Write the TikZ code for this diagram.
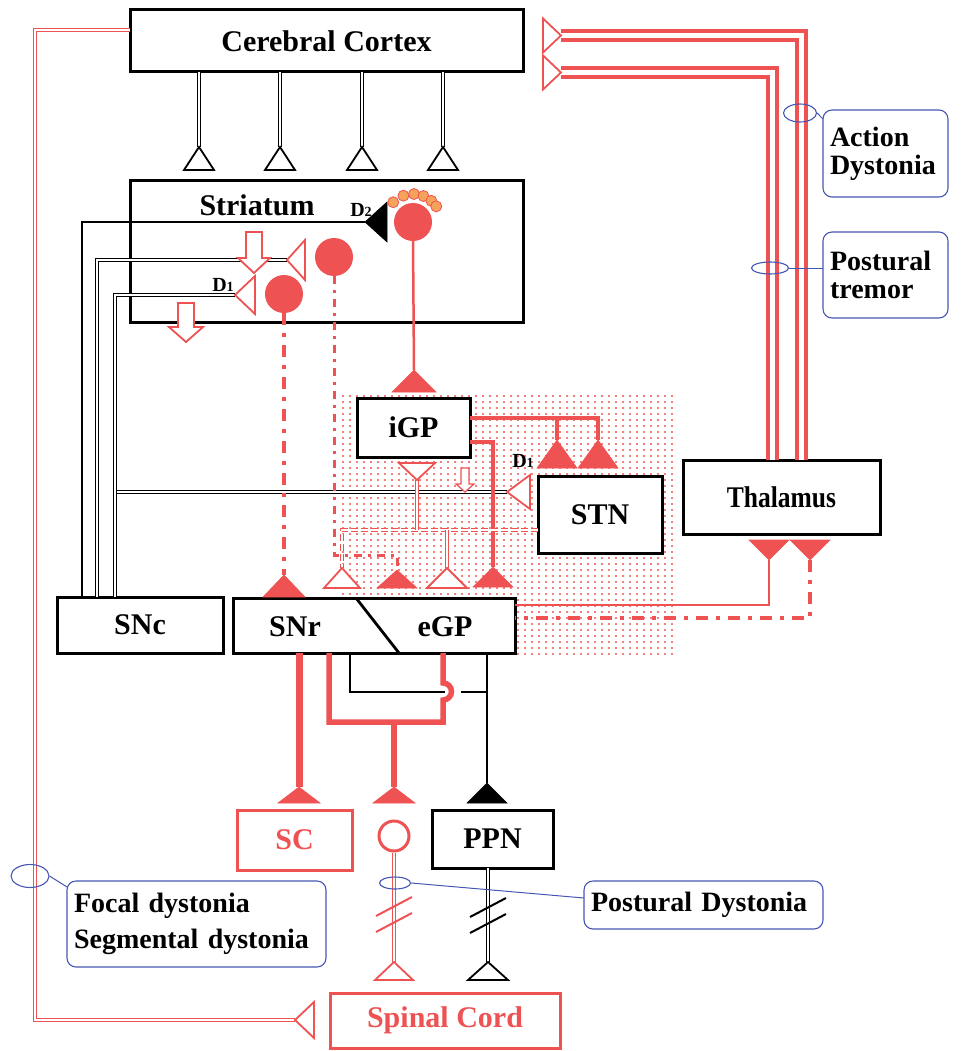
\documentclass[tikz,border=0pt]{standalone}
\usepackage{fontspec}
\setmainfont{Liberation Serif}
\definecolor{nred}{HTML}{EE5252}
\definecolor{budorange}{HTML}{F5A35A}
\definecolor{noteblue}{HTML}{4656B4}
\usetikzlibrary{shapes.geometric, positioning, calc}
\newcommand{\boxfont}{\fontsize{30}{32}\selectfont\bfseries}
\newcommand{\narrowfont}{\fontsize{30}{32}\selectfont\bfseries\addfontfeatures{FakeStretch=0.85}}
\newcommand{\notefont}{\fontsize{28}{30}\selectfont\bfseries}
\newcommand{\dfont}{\fontsize{20}{20}\selectfont\bfseries}
\newcommand{\dsub}[1]{{\fontsize{14}{14}\selectfont #1}}
\tikzset{
  box/.style={
    draw=#1, line width=3pt, fill=white, inner sep=0pt, outer sep=0pt,
    font=\boxfont, text=#1
  },
  box/.default=black,
  lbl/.style={font=\boxfont, inner sep=0pt},
  dlbl/.style={font=\dfont, inner sep=0pt},
  note/.style={
    draw=noteblue, line width=1.1pt, rounded corners=9pt,
    font=\notefont, align=left, inner sep=0pt, outer sep=0pt
  },
  ring/.style={ellipse, draw=noteblue, line width=1.1pt, inner sep=0pt},
  noteline/.style={draw=noteblue, line width=1pt},
  cell/.style={circle, fill=nred, minimum size=38pt, inner sep=0pt},
  bud/.style={circle, fill=budorange, draw=nred, line width=0.8pt,
    minimum size=11pt, inner sep=0pt},
  bdbl/.style={draw=black, double=white, line width=1.2pt, double distance=1.4pt},
  rdbl/.style={draw=nred, double=white, line width=1.4pt, double distance=2pt},
  rpair/.style={draw=nred, double=white, line width=3.2pt, double distance=5.8pt},
  rline/.style={draw=nred, line width=#1},
  rline/.default=2.5pt,
  rdashdot/.style={draw=nred, line width=#1,
    dash pattern=on 12pt off 8pt on 4pt off 8pt},
  rdashdot/.default=4.5pt,
  osyn/.style={draw=#1, fill=white, line width=1.8pt, line join=miter},
  fsyn/.style={draw=#1, fill=#1, line width=0.6pt},
  pics/syn/.style 2 args={code={
    \path[pic actions] (0,0) -- (-#1,#2) -- (#1,#2) -- cycle;
  }},
  pics/hollowdown/.style n args={4}{code={
    \path[pic actions] (-#1,0) -- (-#1,#2) -- (-#3,#2) -- (0,{#2+#4})
      -- (#3,#2) -- (#1,#2) -- (#1,0) -- cycle;
  }},
}

\begin{document}
\begin{tikzpicture}[x=1pt, y=-1pt]
  \useasboundingbox (0,0) rectangle (962,1051);

  % stippled field
  \foreach \i in {0,...,47}
    \foreach \j in {0,...,43}
      \fill[nred] ({343+7*\i},{396+6*\j}) circle (1.2pt);

  % Boxes
  \node[box, minimum width=393pt, minimum height=62pt] (cortex) at (326.5,41) {Cerebral Cortex};
  \node[box, minimum width=393pt, minimum height=141pt] (striatum) at (326.5,251.5) {};
  \node[lbl] (striatumlbl) at (257,205) {Striatum};
  \node[box, minimum width=113pt, minimum height=59pt] (igp) at (413.5,427.5) {iGP};
  \node[box, minimum width=124pt, minimum height=77pt] (stn) at (600,514.5) {STN};
  \node[box, minimum width=197pt, minimum height=74pt, font=\narrowfont]
    (thal) at (781.5,497) {Thalamus};
  \node[box, minimum width=166pt, minimum height=56pt] (snc) at (140,625) {SNc};
  \node[box, minimum width=282pt, minimum height=55pt] (snr) at (374,625.5) {};
  \node[lbl] (snrlbl) at (295,627) {SNr};
  \node[lbl] (egplbl) at (445,627) {eGP};
  \draw[line width=2.8pt] (snr.north -| 356,0) -- (snr.south -| 399,0);
  \node[box=nred, minimum width=115pt, minimum height=60pt] (sc) at (294.5,840) {SC};
  \node[box, minimum width=121pt, minimum height=58pt] (ppn) at (492.5,839) {PPN};
  \node[box=nred, minimum width=230pt, minimum height=55pt] (spinal) at (445,1020.5) {Spinal Cord};

  % Cortex -> Striatum
  \foreach \x in {199,280,362,443} {
    \draw[bdbl] (cortex.south -| \x,0) -- (\x,147);
    \pic[osyn=black] at (\x,147) {syn={15}{23}};
  }

  % Fibres from SNc
  \coordinate (d2syn) at (365,222);
  \coordinate (insyn) at (287,260);
  \coordinate (d1syn) at (235,295);
  \coordinate (stnsyn) at (507,492);
  \draw[line width=2.2pt] (snc.north -| 82,0) |- (d2syn);
  \draw[bdbl] (snc.north -| 97,0) |- (insyn);
  \draw[bdbl] (115,492) -- (stnsyn);
  \draw[bdbl] (snc.north -| 115,0) |- (d1syn);
  \pic[fsyn=black, rotate=90] at (d2syn) {syn={20}{22}};
  \pic[osyn=nred, rotate=90] at (insyn) {syn={20}{18}};
  \pic[osyn=nred, rotate=90] at (d1syn) {syn={19}{20}};
  \pic[osyn=nred, rotate=90] at (stnsyn) {syn={17}{23}};
  \node[dlbl] (d2lbl) at (361,210) {D\dsub{2}};
  \node[dlbl] (d1lbl) at (223,285) {D\dsub{1}};
  \node[dlbl] (d1stnlbl) at (523,461) {D\dsub{1}};

  % hollow arrows
  \pic[draw=nred, fill=white, line width=1.8pt] at (254,232) {hollowdown={8}{26}{16}{15}};
  \pic[draw=nred, fill=white, line width=1.8pt] at (186,303) {hollowdown={8}{24}{17}{15}};
  \pic[draw=nred, fill=white, line width=1.2pt] at (465,468) {hollowdown={4}{16}{9}{8}};

  % Striatal cells
  \coordinate (d3c) at (413,222);
  \foreach \a in {135,110,88,68,49,34}
    \path (d3c) ++(\a:28pt) node[bud] {};
  \node[cell] (dcell1) at (284,294) {};
  \node[cell] (dcell2) at (334,257) {};
  \node[cell] (dcell3) at (d3c) {};

  % Striatal outputs
  \coordinate (snrsyn) at (284,575);
  \coordinate (egpsyn1) at (397,570);
  \coordinate (igpsyn) at (414,370);
  \draw[rdashdot] (dcell1.south) -- (snrsyn);
  \draw[rline=3pt, dash pattern=on 8pt off 6pt on 3pt off 6pt] (dcell2.south) |- (egpsyn1 |- 0,555) -- (egpsyn1);
  \draw[rline] (dcell3.south) -- (igpsyn);
  \pic[fsyn=nred] at (snrsyn) {syn={21}{22}};
  \pic[fsyn=nred] at (egpsyn1) {syn={20}{18}};
  \pic[fsyn=nred] at (igpsyn) {syn={22}{22}};

  % iGP outputs
  \coordinate (stnsyn1) at (557,440);
  \coordinate (stnsyn2) at (598,440);
  \coordinate (egpsyn3) at (493,567);
  \draw[rline=3.8pt] (igp.east |- 0,418) -| (stnsyn2);
  \draw[rline=3.8pt] (stnsyn1 |- 0,418) -- (stnsyn1);
  \draw[rline=3.2pt] (igp.east |- 0,442) -| (egpsyn3);
  \pic[fsyn=nred] at (stnsyn1) {syn={20}{28}};
  \pic[fsyn=nred] at (stnsyn2) {syn={20}{28}};
  \pic[fsyn=nred] at (egpsyn3) {syn={20}{20}};

  % STN outputs
  \coordinate (snrsyn2) at (342,568);
  \coordinate (igpsyn2) at (417,480);
  \coordinate (egpsyn2) at (447,568);
  \draw[rdbl, dash pattern=on 7pt off 3pt] (stn.west |- 0,530) -| (snrsyn2);
  \draw[rdbl] (igpsyn2 |- 0,530) -- (igpsyn2);
  \draw[rdbl] (egpsyn2 |- 0,530) -- (egpsyn2);
  \pic[osyn=nred] at (snrsyn2) {syn={18}{20}};
  \pic[osyn=nred, rotate=180] at (igpsyn2) {syn={18}{17}};
  \pic[osyn=nred] at (egpsyn2) {syn={20}{20}};

  % Thalamus
  \coordinate (thsyn1) at (769,560);
  \coordinate (thsyn2) at (810,560);
  \draw[rline=2pt] (thsyn1) |- (snr.east |- 0,605);
  \draw[rdashdot=4pt] (thsyn2) |- (snr.east |- 0,618);
  \pic[fsyn=nred, rotate=180] at (thsyn1) {syn={20}{20}};
  \pic[fsyn=nred, rotate=180] at (thsyn2) {syn={20}{20}};

  \coordinate (cxsyn1) at (561,35.5);
  \coordinate (cxsyn2) at (561,72.5);
  \draw[rpair] (thal.north -| 801.5,0) |- (cxsyn1);
  \draw[rpair] (thal.north -| 772.5,0) |- (cxsyn2);
  \pic[osyn=nred, rotate=-90] at (cxsyn1) {syn={17}{18}};
  \pic[osyn=nred, rotate=-90] at (cxsyn2) {syn={17}{18}};

  % Cortex -> Spinal Cord
  \coordinate (spsyn1) at (295,1020);
  \draw[rdbl] (cortex.west |- 0,30) -| (35,1020) -- (spsyn1);
  \pic[osyn=nred, rotate=90] at (spsyn1) {syn={18}{19}};

  % SNr / eGP outputs
  \coordinate (scsyn) at (299,787);
  \coordinate (cellsyn) at (394,787);
  \coordinate (ppnsyn) at (487,783);
  \draw[line width=2.5pt] (snr.south -| 350,0) |- (445,692);
  \draw[line width=2.5pt] (461,692) -- (487,692);
  \draw[line width=2.5pt] (snr.south -| 487,0) -- (ppnsyn);
  \draw[rline=7pt] (snr.south -| 299,0) -- (scsyn);
  \draw[rline=5.5pt] (snr.south -| 329,0) |- (443,722) -- (443,700)
    arc[start angle=-90, end angle=90, radius=8.5pt] -- (snr.south -| 443,0);
  \draw[rline=5.5pt] (394,722) -- (cellsyn);
  \pic[fsyn=nred] at (scsyn) {syn={21}{16}};
  \pic[fsyn=nred] at (cellsyn) {syn={21}{16}};
  \pic[fsyn=black] at (ppnsyn) {syn={20}{20}};

  % Brainstem -> Spinal Cord
  \node[circle, draw=nred, fill=white, line width=3pt, minimum size=30pt, inner sep=0pt]
    (mcell) at (394,836) {};
  \coordinate (spsyn2) at (394,962);
  \coordinate (spsyn3) at (488,962);
  \draw[rdbl] (mcell.south) -- (spsyn2);
  \draw[bdbl] (ppn.south -| 488,0) -- (spsyn3);
  \draw[nred, line width=2pt] (376,916) -- (412,897) (376,932) -- (412,913);
  \draw[line width=2pt] (470,917) -- (506,898) (470,933) -- (506,914);
  \pic[osyn=nred] at (spsyn2) {syn={19}{18}};
  \pic[osyn=black] at (spsyn3) {syn={20}{18}};

  % Annotations
  \node[note, minimum width=125pt, minimum height=87pt, text width=111pt]
    (actnote) at (885.5,153.5) {Action\\[-2pt]Dystonia};
  \node[note, minimum width=125pt, minimum height=86pt, text width=111pt]
    (trenote) at (885.5,275) {Postural\\[-2pt]tremor};
  \node[note, minimum width=259pt, minimum height=86pt, text width=245pt]
    (focalnote) at (196.5,924) {Focal dystonia\\[6pt]Segmental dystonia};
  \node[note, minimum width=239pt, minimum height=48pt, text width=225pt]
    (posnote) at (703.5,905) {Postural Dystonia};

  \node[ring, minimum width=33pt, minimum height=18pt] (e1) at (800,113) {};
  \node[ring, minimum width=37pt, minimum height=12pt] (e2) at (770,268) {};
  \node[ring, minimum width=38pt, minimum height=23pt] (e3) at (30,876) {};
  \node[ring, minimum width=31pt, minimum height=12pt] (e4) at (395,883) {};
  \draw[noteline] (e1.east) -- (actnote.west |- 0,119);
  \draw[noteline] (e2.east) -- (trenote.west |- e2);
  \draw[noteline] (e3.east) -- (focalnote.west |- 0,887);
  \draw[noteline] (e4.east) -- (posnote.west |- 0,898);
\end{tikzpicture}
\end{document}
